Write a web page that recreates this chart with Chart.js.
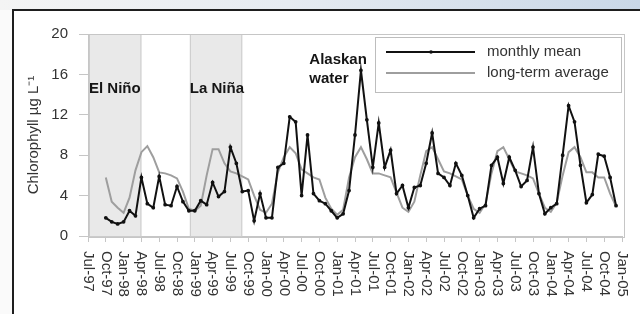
<!DOCTYPE html>
<html>
<head>
<meta charset="utf-8">
<script src="https://cdn.jsdelivr.net/npm/chart.js@4.4.1/dist/chart.umd.min.js"></script>
<style>
  body { margin: 0; background: #fff; }
  #wrap { position: relative; width: 640px; height: 314px; overflow: hidden; background: #fafafa; }
  #topband { position: absolute; left: 0; top: 0; width: 640px; height: 10px;
    background: linear-gradient(to right, #f4f4f4 0%, #e6ebf1 45%, #c9d7e7 100%); }
  #frame { position: absolute; left: 12px; top: 9px; width: 640px; height: 320px;
    border-top: 2px solid #1e1e1e; border-left: 2px solid #1e1e1e; background: #fff; }
  #myChart { position: absolute; left: 0; top: 0; }
</style>
</head>
<body>
<div id="wrap">
  <div id="topband"></div>
  <div id="frame"></div>
  <canvas id="myChart" width="640" height="314"></canvas>
</div>
<script>
// quarterly tick labels, Jul-97 .. Jan-05 (one every 3 months)
var tick_labels = ['Jul-97', 'Oct-97', 'Jan-98', 'Apr-98', 'Jul-98', 'Oct-98', 'Jan-99', 'Apr-99',
    'Jul-99', 'Oct-99', 'Jan-00', 'Apr-00', 'Jul-00', 'Oct-00', 'Jan-01', 'Apr-01', 'Jul-01',
    'Oct-01', 'Jan-02', 'Apr-02', 'Jul-02', 'Oct-02', 'Jan-03', 'Apr-03', 'Jul-03', 'Oct-03',
    'Jan-04', 'Apr-04', 'Jul-04', 'Oct-04', 'Jan-05'];
// first data month counted from Jul-97
var first_month = 3;
// monthly mean chlorophyll, Oct-97 .. Dec-04
var monthly_mean = [
    1.8, 1.4, 1.2,
    1.4, 2.5, 2.0, 5.8, 3.2, 2.8, 5.9, 3.1, 3.0, 4.9, 3.4, 2.5,
    2.5, 3.5, 3.1, 5.3, 3.9, 4.4, 8.8, 7.2, 4.4, 4.5, 1.5, 4.2,
    1.8, 1.8, 6.8, 7.2, 11.8, 11.3, 4.0, 10.0, 4.2, 3.5, 3.2, 2.5,
    1.8, 2.2, 4.5, 10.0, 16.4, 11.5, 6.8, 11.2, 6.8, 8.5, 4.2, 5.0,
    2.8, 4.8, 5.0, 7.2, 10.2, 6.2, 5.8, 5.0, 7.2, 6.0, 4.0, 1.8,
    2.7, 3.0, 7.0, 7.8, 5.2, 7.8, 6.5, 4.9, 5.5, 8.8, 4.2, 2.2,
    2.8, 3.2, 8.0, 12.9, 11.3, 7.0, 3.3, 4.1, 8.1, 7.9, 5.8, 3.0
];
// long-term average, Oct-97 .. Dec-04
var long_term = [
    5.8, 3.4, 2.8,
    2.3, 3.8, 6.5, 8.3, 8.9, 7.8, 6.3, 6.2, 6.0, 5.7, 4.4, 2.7,
    2.5, 3.0, 6.0, 8.6, 8.6, 7.2, 6.4, 6.2, 5.9, 5.6, 4.0, 2.6,
    2.3, 3.2, 6.3, 7.8, 8.8, 8.2, 6.6, 6.2, 5.8, 5.6, 3.8, 2.7,
    2.1, 2.6, 5.8, 7.8, 8.8, 7.6, 6.2, 6.2, 6.0, 5.8, 4.3, 2.8,
    2.4, 3.4, 6.0, 8.4, 8.8, 7.6, 6.4, 6.2, 5.9, 5.6, 4.0, 2.7,
    2.3, 3.2, 6.2, 8.4, 8.8, 7.6, 6.4, 6.2, 6.0, 5.7, 4.2, 2.8,
    2.4, 3.3, 6.0, 8.3, 8.8, 7.8, 6.3, 6.3, 5.8, 5.8, 4.2, 2.9
];
// shaded ENSO periods (months from Jul-97)
var period_names = ['El Niño', 'La Niña'];
var period_start = [0, 17];
var period_end = [9, 26];

var chart;
var FONT = 'Liberation Sans, Arial, sans-serif';

function to_points(arr) {
    return arr.map(function (v, i) { return { x: i + first_month, y: v }; });
}

var figure_plugin = {
    id: 'figure',
    beforeDatasetsDraw: function (c) {
        let ctx = c.ctx, xs = c.scales.x, ys = c.scales.y, a = c.chartArea;
        ctx.save();
        for (let i = 0; i < period_names.length; i++) {
            let x0 = xs.getPixelForValue(period_start[i]) + 1;
            let x1 = xs.getPixelForValue(period_end[i]);
            let y0 = ys.getPixelForValue(20);
            let y1 = ys.getPixelForValue(0);
            ctx.fillStyle = '#e9e9e9';
            ctx.fillRect(x0, y0, x1 - x0, y1 - y0);
            ctx.strokeStyle = '#cbcbcb';
            ctx.lineWidth = 1;
            ctx.strokeRect(x0 + 0.5, y0 + 0.5, x1 - x0 - 1, y1 - y0);
        }
        // plot frame
        ctx.strokeStyle = '#c6c6c6';
        ctx.lineWidth = 1;
        ctx.strokeRect(a.left + 0.5, a.top + 0.5, a.right - a.left + 2, a.bottom - a.top + 1);
        ctx.restore();
    },
    afterDraw: function (c) {
        let ctx = c.ctx, xs = c.scales.x, ys = c.scales.y;
        ctx.save();
        // rotated quarterly labels, reading downward
        ctx.font = '15px ' + FONT;
        ctx.fillStyle = '#333';
        ctx.textAlign = 'left';
        ctx.textBaseline = 'middle';
        tick_labels.forEach(function (lab, i) {
            ctx.save();
            ctx.translate(xs.getPixelForValue(i * 3), 251);
            ctx.rotate(Math.PI / 2);
            ctx.fillText(lab, 0, 0);
            ctx.restore();
        });
        // period names and note
        ctx.font = 'bold 15px ' + FONT;
        ctx.fillStyle = '#151515';
        ctx.textBaseline = 'middle';
        for (let i = 0; i < period_names.length; i++) {
            ctx.fillText(period_names[i], xs.getPixelForValue(period_start[i]) + 1, ys.getPixelForValue(14.6));
        }
        let ax = xs.getPixelForValue(37.3);
        ctx.fillText('Alaskan', ax, ys.getPixelForValue(17.4));
        ctx.fillText('water', ax, ys.getPixelForValue(15.6));
        // legend box
        ctx.fillStyle = '#fff';
        ctx.fillRect(375, 37, 246, 55);
        ctx.strokeStyle = '#bdbdbd';
        ctx.lineWidth = 1;
        ctx.strokeRect(375.5, 37.5, 246, 55);
        ctx.lineWidth = 2;
        ctx.strokeStyle = '#111';
        ctx.beginPath(); ctx.moveTo(386, 52); ctx.lineTo(475, 52); ctx.stroke();
        ctx.fillStyle = '#111';
        ctx.beginPath(); ctx.arc(431, 52, 1.8, 0, Math.PI * 2); ctx.fill();
        ctx.strokeStyle = '#9e9e9e';
        ctx.beginPath(); ctx.moveTo(386, 73); ctx.lineTo(475, 73); ctx.stroke();
        ctx.font = '15px ' + FONT;
        ctx.fillStyle = '#333';
        ctx.fillText(c.data.datasets[0].label, 487, 52);
        ctx.fillText(c.data.datasets[1].label, 487, 73);
        ctx.restore();
    }
};

function draw_plot() {
    var ctx = document.getElementById('myChart');
    chart = new Chart(ctx, {
        type: 'line',
        data: {
            datasets: [
                {
                    label: 'monthly mean',
                    data: to_points(monthly_mean),
                    borderColor: '#111',
                    backgroundColor: '#111',
                    borderWidth: 2,
                    pointRadius: 0.9,
                    tension: 0,
                    fill: false,
                },
                {
                    label: 'long-term average',
                    data: to_points(long_term),
                    borderColor: '#9e9e9e',
                    borderWidth: 2,
                    pointRadius: 0,
                    tension: 0,
                    fill: false,
                },
            ],
        },
        options: {
            responsive: false,
            animation: false,
            layout: { padding: { top: 34, right: 18, left: 0, bottom: 0 } },
            plugins: {
                legend: { display: false },
                tooltip: { enabled: false },
            },
            scales: {
                x: {
                    type: 'linear',
                    min: 0,
                    max: 90,
                    afterBuildTicks: function (s) {
                        s.ticks = tick_labels.map(function (l, i) { return { value: i * 3 }; });
                    },
                    afterFit: function (s) { s.height = 78; },
                    ticks: { display: false },
                    grid: { drawOnChartArea: false, tickLength: 6, color: '#c6c6c6' },
                    border: { color: '#c6c6c6' },
                },
                y: {
                    min: 0,
                    max: 20,
                    afterFit: function (s) { s.width = 88; },
                    ticks: {
                        stepSize: 4,
                        padding: 11,
                        color: '#333',
                        font: { family: FONT, size: 15 },
                    },
                    grid: { drawOnChartArea: false, tickLength: 9, color: '#c6c6c6' },
                    border: { color: '#c6c6c6' },
                    title: {
                        display: true,
                        text: 'Chlorophyll µg L⁻¹',
                        color: '#333',
                        font: { family: FONT, size: 15 },
                        padding: { top: 25, bottom: 0 },
                    },
                },
            },
        },
        plugins: [figure_plugin],
    });
}
draw_plot();
</script>
</body>
</html>
